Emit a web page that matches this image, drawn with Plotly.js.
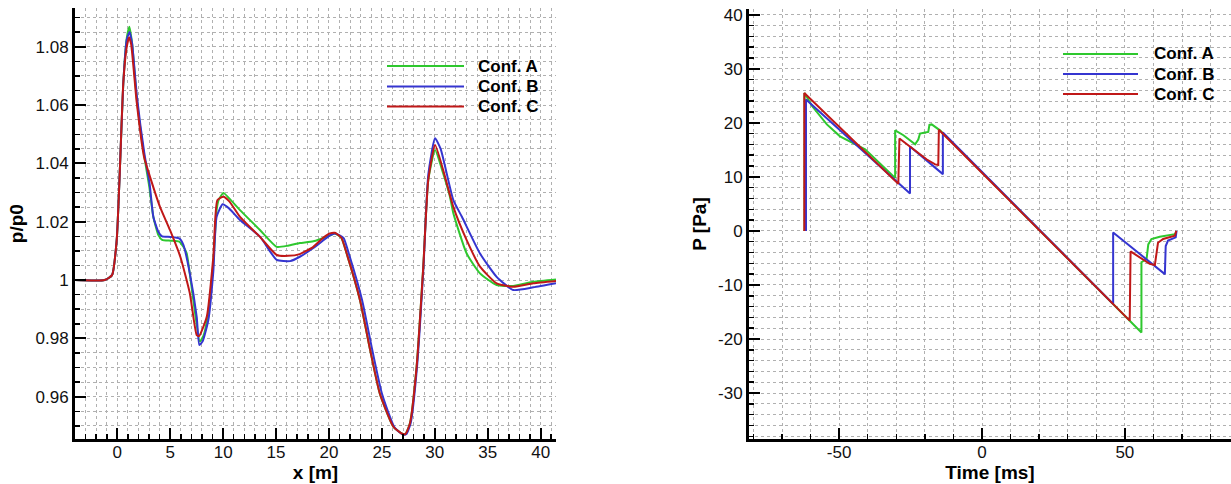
<!DOCTYPE html>
<html>
<head>
<meta charset="utf-8">
<script src="https://cdn.plot.ly/plotly-3.0.1.min.js"></script>
<style>html,body{margin:0;padding:0;background:#fff}#chart{width:1231px;height:484px}</style>
</head>
<body>
<div id="chart"></div>
<script>
// ---- Left panel: p/p0 along x [m] ----
var xA = [-4, -1.2, -0.5, -0.06, 0.25, 0.56, 0.89, 1.14, 1.4, 1.83, 2.52, 3.02, 3.4, 3.88, 4.23, 5.04, 5.85, 6.24, 6.55, 7.18, 7.8, 8.15, 8.55, 9.05, 9.38, 9.58, 10.02, 10.58, 11.59, 13.5, 15.06, 16.13, 17.24, 18.52, 20.09, 20.56, 21.17, 21.67, 22.93, 23.89, 24.8, 26.08, 26.86, 27.22, 27.65, 28.28, 28.91, 29.38, 30.02, 30.79, 31.43, 31.75, 33.01, 34.27, 35.84, 37.4, 39.31, 41.45];
var pA = [1, 1, 1.0017, 1.0137, 1.0389, 1.0674, 1.083, 1.0869, 1.081, 1.0625, 1.043, 1.032, 1.0217, 1.0154, 1.0138, 1.0135, 1.0132, 1.0114, 1.0092, 0.9931, 0.9789, 0.981, 0.988, 1.005, 1.024, 1.0275, 1.0299, 1.028, 1.024, 1.0171, 1.0114, 1.0118, 1.0127, 1.0133, 1.0153, 1.016, 1.0145, 1.0091, 0.9931, 0.976, 0.9611, 0.9497, 0.9474, 0.9472, 0.9509, 0.9703, 1.0046, 1.0343, 1.0446, 1.0366, 1.0286, 1.0229, 1.0091, 1.0023, 0.9983, 0.998, 0.9994, 1.0002];

var xB = [-4, -1.2, -0.5, -0.06, 0.25, 0.56, 0.89, 1.16, 1.4, 1.85, 2.55, 3.05, 3.4, 3.88, 4.23, 5.04, 5.85, 6.25, 6.85, 7.5, 7.75, 8.06, 8.6, 9.07, 9.38, 9.95, 10.58, 11.59, 13.5, 15.06, 16.33, 17.24, 18.52, 20.09, 20.56, 21.37, 21.87, 23.13, 24.09, 25.0, 26.2, 27.0, 27.32, 27.72, 28.32, 28.93, 29.38, 30.02, 30.55, 31.75, 32.56, 34.27, 35.84, 37.4, 39.31, 41.45];
var pB = [1, 1, 1.0017, 1.0137, 1.0389, 1.0674, 1.0825, 1.0851, 1.081, 1.063, 1.0435, 1.033, 1.0217, 1.0165, 1.015, 1.0148, 1.0143, 1.012, 1.0023, 0.9874, 0.9777, 0.979, 0.9863, 1.003, 1.0217, 1.026, 1.0245, 1.0206, 1.0148, 1.0069, 1.0065, 1.008, 1.011, 1.0153, 1.016, 1.0145, 1.0091, 0.9931, 0.976, 0.9611, 0.9494, 0.947, 0.9472, 0.951, 0.9703, 1.0046, 1.036, 1.0486, 1.045, 1.0274, 1.0217, 1.0091, 1.0011, 0.9966, 0.9975, 0.9989];

var xC = [-4, -1.2, -0.5, -0.06, 0.25, 0.56, 0.89, 1.11, 1.3, 1.83, 2.52, 3.09, 4.03, 4.98, 5.95, 6.85, 7.5, 7.72, 8.45, 9.07, 9.45, 10.02, 10.58, 11.59, 13.48, 15.06, 16.13, 17.24, 18.52, 19.45, 20.09, 20.56, 21.17, 21.67, 22.93, 23.89, 24.8, 26.08, 26.86, 27.22, 27.65, 28.28, 28.91, 29.38, 30.02, 30.79, 31.75, 33.01, 34.27, 35.84, 37.4, 39.31, 41.45];
var pC = [1, 1, 1.0017, 1.0137, 1.0389, 1.0674, 1.080, 1.0833, 1.081, 1.061, 1.0423, 1.0354, 1.0251, 1.0171, 1.008, 0.9955, 0.9811, 0.9808, 0.9874, 1.008, 1.0274, 1.0286, 1.027, 1.0217, 1.0148, 1.0086, 1.0083, 1.0089, 1.0114, 1.0145, 1.016, 1.0162, 1.0145, 1.0091, 0.9931, 0.976, 0.9611, 0.9497, 0.9474, 0.9472, 0.9509, 0.9703, 1.0046, 1.0343, 1.0463, 1.0377, 1.0251, 1.0137, 1.0046, 0.9989, 0.9977, 0.9989, 0.9997];

// ---- Right panel: P [Pa] vs Time [ms] ----
var tA = [-62.1, -62.1, -59.5, -54.3, -49.7, -44.4, -40.9, -30.4, -30.4, -27.5, -23.4, -22.3, -21.7, -19.9, -18.8, -18.4, -17.6, -14.7, 55.8, 55.8, 57.6, 58.2, 59.3, 62.2, 67.5, 68.0];
var PA = [0, 25.5, 23.1, 19.7, 17.5, 16.0, 15.1, 9.8, 18.6, 17.7, 16.0, 16.9, 18.0, 18.2, 18.3, 19.6, 19.7, 18.6, -18.8, -5.8, -5.2, -2.5, -1.5, -1.1, -0.6, -0.2];

var tB = [-61.6, -61.6, -25.2, -25.2, -13.7, -13.7, 45.9, 45.9, 64.0, 64.3, 65.1, 67.8, 68.1];
var PB = [0, 24.3, 6.9, 15.6, 10.5, 18.2, -13.5, -0.3, -8.0, -2.8, -1.8, -1.2, 0];

var tC = [-62.2, -62.2, -29.3, -28.9, -24.0, -19.3, -16.4, -15.3, -15.1, 51.7, 52.0, 58.7, 60.5, 60.8, 61.6, 63.4, 67.5, 68.0];
var PC = [0, 25.5, 8.7, 17.1, 15.1, 13.2, 12.3, 12.2, 18.7, -16.6, -3.8, -6.1, -6.3, -5.2, -2.2, -1.5, -0.9, 0];

// tick labels (plain hyphen minus, as in the original)
var tVals = [-50, 0, 50];
var tText = ['-50', '0', '50'];
var PVals = [-30, -20, -10, 0, 10, 20, 30, 40];
var PText = ['-30', '-20', '-10', '0', '10', '20', '30', '40'];

var names = ['Conf. A', 'Conf. B', 'Conf. C'];
var colors = ['#2ec82e', '#3535d0', '#c01818'];

var FAM = 'Liberation Sans, Arial, sans-serif';
var tickFont = {family: FAM, size: 17, color: '#111'};
var titleFont = {family: FAM, size: 19, color: '#000', weight: 'bold'};
var legFont = {family: FAM, size: 17, color: '#000', weight: 'bold'};

function mk(x, y, i, xa, ya, spline) {
  return {
    x: x, y: y, name: names[i], type: 'scatter', mode: 'lines',
    xaxis: xa, yaxis: ya, showlegend: false,
    line: {color: colors[i], width: 2, shape: spline ? 'spline' : 'linear', smoothing: 0.5}
  };
}

var data = [
  mk(xA, pA, 0, 'x', 'y', true),
  mk(xB, pB, 1, 'x', 'y', true),
  mk(xC, pC, 2, 'x', 'y', true),
  mk(tA, PA, 0, 'x2', 'y2', false),
  mk(tB, PB, 1, 'x2', 'y2', false),
  mk(tC, PC, 2, 'x2', 'y2', false)
];

function axis(extra) {
  var base = {
    showline: true, linewidth: 3, linecolor: '#000', mirror: false,
    ticks: 'inside', ticklen: 11, tickwidth: 2, tickcolor: '#000',
    showgrid: true, gridcolor: '#b0b0b0', gridwidth: 1, griddash: 'dot',
    zeroline: false, tickfont: tickFont, automargin: false, fixedrange: true,
    minor: {ticks: 'inside', ticklen: 5, tickwidth: 1.5, tickcolor: '#000',
            showgrid: true, gridcolor: '#b0b0b0', gridwidth: 1, griddash: 'dot'}
  };
  for (var k in extra) {
    if (k === 'minor') { for (var m in extra.minor) base.minor[m] = extra.minor[m]; }
    else base[k] = extra[k];
  }
  return base;
}

// legend (drawn as key lines + labels in paper space)
var W = 1231, H = 484;
var legends = [
  {x0: 387, x1: 464, tx: 476, ys: [66, 86.5, 106.5]},
  {x0: 1063, x1: 1138, tx: 1152, ys: [54, 74, 94]}
];
var shapes = [], annotations = [];
legends.forEach(function (L) {
  for (var i = 0; i < 3; i++) {
    var yy = 1 - L.ys[i] / H;
    shapes.push({type: 'line', xref: 'paper', yref: 'paper', x0: L.x0 / W, x1: L.x1 / W, y0: yy, y1: yy,
                 line: {color: colors[i], width: 2}});
    annotations.push({xref: 'paper', yref: 'paper', x: L.tx / W, y: yy, xanchor: 'left', yanchor: 'middle',
                      text: names[i], showarrow: false, font: legFont});
  }
});

var layout = {
  width: W, height: H,
  margin: {l: 0, r: 0, t: 0, b: 0},
  paper_bgcolor: '#fff', plot_bgcolor: '#fff',
  showlegend: false,
  xaxis: axis({domain: [0.06093, 0.45166], range: [-4, 41.45], tick0: 0, dtick: 5, minor: {dtick: 1},
               ticklabelstandoff: -4, anchor: 'y', title: {text: 'x [m]', font: titleFont, standoff: 1}}),
  yaxis: axis({domain: [0.09298, 0.98285], range: [0.9455, 1.0932], tick0: 1, dtick: 0.02, minor: {dtick: 0.005},
               anchor: 'x', title: {text: 'p/p0', font: titleFont, standoff: 7}}),
  xaxis2: axis({domain: [0.60845, 1], range: [-81.55, 87.15], tickmode: 'array', tickvals: tVals, ticktext: tText,
                minor: {tick0: 0, dtick: 10}, ticklabelstandoff: -4,
                anchor: 'y2', title: {text: 'Time [ms]', font: titleFont, standoff: 1}}),
  yaxis2: axis({domain: [0.09298, 0.98140], range: [-38.5, 41.05], tickmode: 'array', tickvals: PVals, ticktext: PText,
                minor: {tick0: 0, dtick: 2},
                anchor: 'x2', title: {text: 'P [Pa]', font: titleFont, standoff: 7}}),
  shapes: shapes,
  annotations: annotations
};

Plotly.newPlot('chart', data, layout, {staticPlot: true, displayModeBar: false});
</script>
</body>
</html>
